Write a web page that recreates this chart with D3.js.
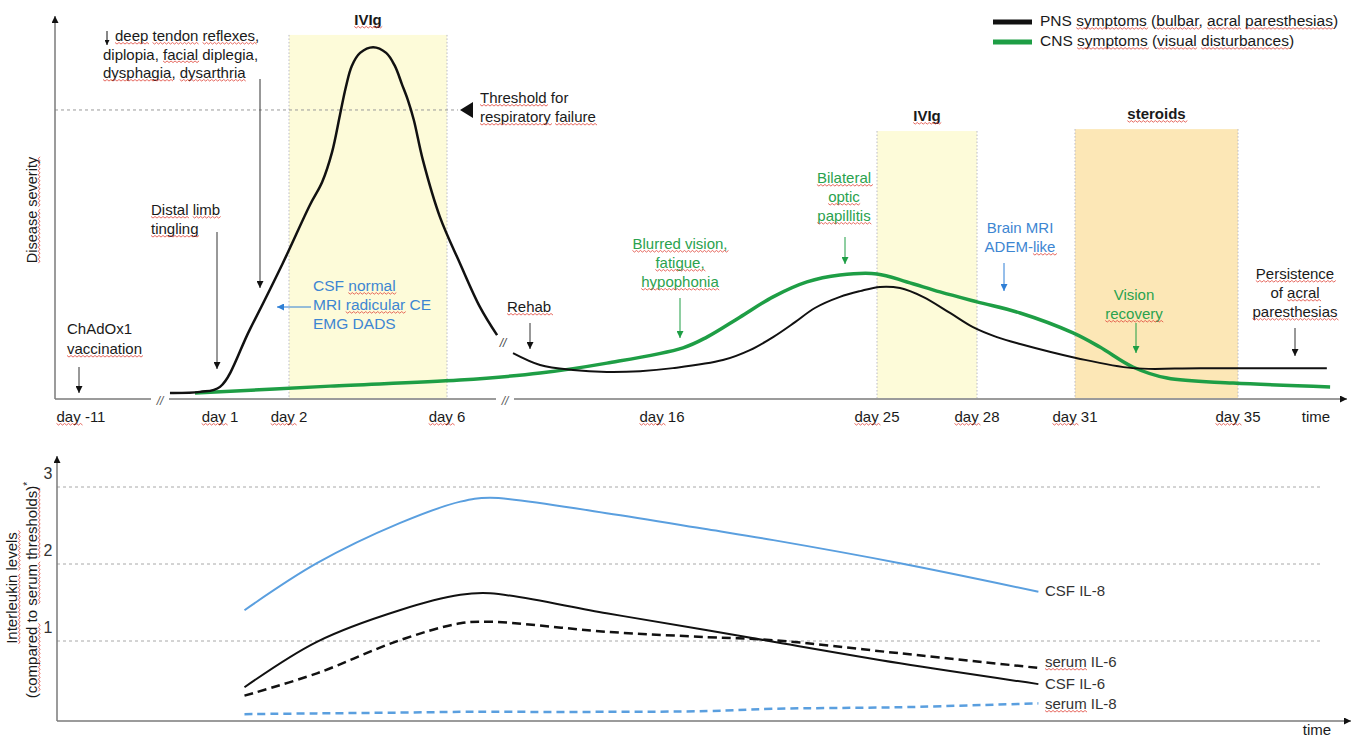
<!DOCTYPE html>
<html>
<head>
<meta charset="utf-8">
<script src="https://cdn.jsdelivr.net/npm/d3@7"></script>
<style>
  body { margin: 0; background: #fff; }
  svg { display: block; font-family: "Liberation Sans", Arial, sans-serif; }
</style>
</head>
<body>
<div id="chart"></div>
<script>
// ---- data: disease course (top panel) ----
const dayTicks = [-11, 1, 2, 6, 16, 25, 28, 31, 35];
const dayLabels = dayTicks.map(d => "day " + d);

// PNS symptoms, before and after the axis break
const pnsDaysA = [-3.32, -0.73, 1, 1.43, 1.91, 2.53, 2.84, 3.09, 3.29, 3.44, 3.59, 3.80, 4.13, 4.46, 4.68, 4.86, 5.01, 5.16, 5.39, 5.82, 6.60, 7.53, 8.33];
const pnsSevA  = [1.3, 1.6, 2.9, 17.8, 35.2, 50.4, 56.4, 64.2, 73.9, 81.2, 86.7, 90.1, 91.6, 90.1, 86.7, 81.9, 77.8, 72.6, 62.1, 47.3, 35.2, 23.8, 16.4];
const pnsDaysB = [9.07, 10.33, 11.86, 13.44, 14.98, 16.46, 18.55, 19.68, 20.65, 21.57, 22.40, 23.45, 24.29, 25.09, 25.69, 26.38, 27.19, 27.88, 28.61, 29.32, 31.05, 32.42, 34.07, 37.18];
const pnsSevB  = [11.7, 8.6, 7.3, 6.8, 7.0, 7.8, 9.9, 12.5, 15.9, 19.8, 23.5, 26.4, 27.9, 29.0, 28.7, 26.4, 22.2, 18.5, 15.9, 14.1, 10.4, 7.8, 7.8, 7.8];

// CNS symptoms
const cnsDays = [-1.16, 3.04, 6.60, 10.33, 13.44, 16.88, 17.88, 19.26, 20.65, 22.07, 23.45, 25, 25.9, 26.89, 28, 29.32, 30.94, 31.61, 32.42, 33.26, 34.88, 37.26];
const cnsSev  = [1.3, 3.1, 4.7, 6.5, 9.1, 13.1, 15.9, 21.1, 26.4, 30.3, 32.1, 32.4, 30.3, 27.7, 25.1, 22.2, 17.0, 13.3, 8.1, 5.2, 3.9, 2.9];

// treatments
const treatNames = ["IVIg", "IVIg", "steroids"];
const treatStart = [2, 25, 31];
const treatEnd   = [6, 28, 35];
const treatTop   = [94.8, 69.7, 70.2];
const threshold = 75.2;

// ---- data: interleukins (bottom panel) ----
const ilTime = [14.5, 20.1, 26.5, 31.2, 33.5, 42.5, 50.3, 55.4, 65.2, 75.9];
const csfIL8   = [1.40, 2.01, 2.53, 2.81, 2.86, 2.66, 2.45, 2.31, 2.01, 1.64];
const csfIL6   = [0.40, 0.99, 1.40, 1.60, 1.62, 1.36, 1.14, 0.99, 0.71, 0.44];
const serumIL6 = [0.29, 0.58, 1.01, 1.23, 1.25, 1.12, 1.05, 1.01, 0.84, 0.65];
const serumIL8 = [0.05, 0.06, 0.07, 0.08, 0.08, 0.08, 0.09, 0.12, 0.14, 0.19];
const ilTicks = [1, 2, 3];

const W = 1358, H = 740;
const GREEN = "#1e9e45", GREEN_TXT = "#2aa24e", BLUE = "#5a9fdf", BLUE_TXT = "#3d86d2";

const svg = d3.select("#chart").append("svg")
  .attr("width", W).attr("height", H);

const defs = svg.append("defs");
function marker(id, color, w = 8, h = 7) {
  defs.append("marker")
    .attr("id", id).attr("viewBox", "0 0 10 10")
    .attr("refX", 10).attr("refY", 5)
    .attr("markerUnits", "userSpaceOnUse")
    .attr("markerWidth", w).attr("markerHeight", h)
    .attr("orient", "auto")
    .append("path").attr("d", "M0,0L10,5L0,10z").attr("fill", color);
}
marker("ah-black", "#111");
marker("ah-green", GREEN);
marker("ah-blue", "#2f7fd6");
marker("ah-axis", "#111");
marker("ah-small", "#111", 5, 5);

// multi-line text; words in opts.ul get the red spell-check squiggle seen in the original
function lines(g, txt, x, y, opts = {}) {
  const grp = g.append("g");
  if (opts.transform) grp.attr("transform", opts.transform);
  const t = grp.append("text")
    .attr("x", x).attr("y", y)
    .attr("text-anchor", opts.anchor || "start")
    .attr("dominant-baseline", "middle")
    .attr("font-size", opts.size || 15)
    .attr("font-weight", opts.weight || "normal")
    .attr("fill", opts.color || "#1a1a1a");
  txt.forEach((s, i) => {
    t.append("tspan").attr("x", x).attr("dy", i === 0 ? 0 : (opts.lh || 19)).text(s);
  });
  if (opts.ul) {
    t.selectAll("tspan").each(function () {
      const s = this.textContent;
      opts.ul.forEach(w => {
        let idx = s.indexOf(w);
        while (idx >= 0) {
          const a = this.getExtentOfChar(idx), b = this.getExtentOfChar(idx + w.length - 1);
          const yy = a.y + a.height - 1.5;
          let d = `M${a.x},${yy}`;
          for (let xx = a.x, k = 0; xx < b.x + b.width; xx += 2, k++) {
            d += `L${xx + 2},${yy + (k % 2 ? 0 : 1.6)}`;
          }
          grp.append("path").attr("d", d).attr("fill", "none")
            .attr("stroke", "#e0453a").attr("stroke-width", 0.8);
          idx = s.indexOf(w, idx + w.length);
        }
      });
    });
  }
  return t;
}
function arrow(g, x1, y1, x2, y2, color, id) {
  g.append("line")
    .attr("x1", x1).attr("y1", y1).attr("x2", x2).attr("y2", y2)
    .attr("stroke", color).attr("stroke-width", 1)
    .attr("marker-end", `url(#${id})`);
}

// ================= top panel =================
const x = d3.scaleLinear()
  .domain(dayTicks)
  .range([81, 220, 289, 447, 662, 877, 977, 1075, 1238]);
const y = d3.scaleLinear().domain([0, 100]).range([398, 15]);

const gTop = svg.append("g");

// treatment bands
treatNames.forEach((n, i) => {
  const x0 = x(treatStart[i]), x1 = x(treatEnd[i]), yt = y(treatTop[i]);
  gTop.append("rect")
    .attr("x", x0).attr("y", yt)
    .attr("width", x1 - x0).attr("height", y(0) - yt)
    .attr("fill", n === "steroids" ? "#fce7b6" : "#fdfbd9");
  [x0, x1].forEach(xx => gTop.append("line")
    .attr("x1", xx).attr("x2", xx).attr("y1", yt).attr("y2", y(0))
    .attr("stroke", "#b9b9c4").attr("stroke-width", 1)
    .attr("stroke-dasharray", "1.5,2"));
  lines(gTop, [n], (x0 + x1) / 2, yt - 14, { anchor: "middle", weight: "bold", size: 15, ul: [n] });
});

// threshold
gTop.append("line")
  .attr("x1", 55).attr("x2", 458).attr("y1", y(threshold)).attr("y2", y(threshold))
  .attr("stroke", "#9a9a9a").attr("stroke-width", 1).attr("stroke-dasharray", "3,3");
gTop.append("path")
  .attr("d", `M460,${y(threshold)}L473,${y(threshold) - 8}L473,${y(threshold) + 8}Z`)
  .attr("fill", "#111");
lines(gTop, ["Threshold for", "respiratory failure"], 480, 99,
  { lh: 19, ul: ["Threshold", "respiratory", "failure"] });

// axes
gTop.append("line").attr("x1", 55).attr("x2", 55).attr("y1", 399).attr("y2", 16)
  .attr("stroke", "#7a7a7a").attr("stroke-width", 1.5).attr("marker-end", "url(#ah-axis)");
gTop.append("line").attr("x1", 55).attr("x2", 1347).attr("y1", 399).attr("y2", 399)
  .attr("stroke", "#7a7a7a").attr("stroke-width", 1.5).attr("marker-end", "url(#ah-axis)");
// axis breaks
[160, 505].forEach(bx => {
  gTop.append("rect").attr("x", bx - 9).attr("y", 395).attr("width", 18).attr("height", 8).attr("fill", "#fff");
  lines(gTop, ["//"], bx, 402, { anchor: "middle", size: 12, color: "#555" }).attr("font-style", "italic");
});
lines(gTop, ["//"], 503, 344, { anchor: "middle", size: 12, color: "#444" }).attr("font-style", "italic");

// tick labels
dayTicks.forEach((d, i) => lines(gTop, [dayLabels[i]], x(d), 418, { anchor: "middle", ul: ["day"] }));
lines(gTop, ["time"], 1316, 418, { anchor: "middle" });

lines(gTop, ["Disease severity"], 0, 0,
  { anchor: "middle", size: 14.5, transform: "translate(33,210) rotate(-90)", ul: ["Disease", "severity"] });

// curves
const line = d3.line().x(d => x(d[0])).y(d => y(d[1])).curve(d3.curveCatmullRom.alpha(0.5));
gTop.append("path").datum(d3.zip(cnsDays, cnsSev)).attr("d", line)
  .attr("fill", "none").attr("stroke", GREEN).attr("stroke-width", 3.5);
gTop.append("path").datum(d3.zip(pnsDaysA, pnsSevA)).attr("d", line)
  .attr("fill", "none").attr("stroke", "#111").attr("stroke-width", 2.5);
gTop.append("path").datum(d3.zip(pnsDaysB, pnsSevB)).attr("d", line)
  .attr("fill", "none").attr("stroke", "#111").attr("stroke-width", 2);

// legend
gTop.append("line").attr("x1", 993).attr("x2", 1032).attr("y1", 22).attr("y2", 22)
  .attr("stroke", "#111").attr("stroke-width", 5);
gTop.append("line").attr("x1", 993).attr("x2", 1032).attr("y1", 42).attr("y2", 42)
  .attr("stroke", GREEN).attr("stroke-width", 5);
lines(gTop, ["PNS symptoms (bulbar, acral paresthesias)"], 1040, 22,
  { size: 15.5, ul: ["symptoms", "bulbar", "acral", "paresthesias"] });
lines(gTop, ["CNS symptoms (visual disturbances)"], 1040, 42,
  { size: 15.5, ul: ["symptoms", "visual", "disturbances"] });

// annotations
arrow(gTop, 107, 31, 107, 45, "#111", "ah-small");
lines(gTop, ["deep tendon reflexes,"], 115, 37, { ul: ["deep", "tendon", "reflexes"] });
lines(gTop, ["diplopia, facial diplegia,", "dysphagia, dysarthria"], 103, 55.5,
  { lh: 18.5, ul: ["facial", "dysphagia", "dysarthria"] });
arrow(gTop, 260, 79, 260, 288, "#333", "ah-black");
lines(gTop, ["Distal limb", "tingling"], 151, 211, { ul: ["Distal", "limb", "tingling"] });
arrow(gTop, 217, 232, 217, 369, "#333", "ah-black");
lines(gTop, ["ChAdOx1", "vaccination"], 67, 330, { lh: 20, ul: ["vaccination"] });
arrow(gTop, 79, 367, 79, 393, "#333", "ah-black");
lines(gTop, ["CSF normal", "MRI radicular CE", "EMG DADS"], 313, 287,
  { color: BLUE_TXT, size: 15.5, lh: 19, ul: ["normal", "radicular"] });
arrow(gTop, 311, 307, 277, 307, "#2f7fd6", "ah-blue");
lines(gTop, ["Rehab"], 507, 308, { ul: ["Rehab"] });
arrow(gTop, 530, 323, 530, 349, "#333", "ah-black");
lines(gTop, ["Blurred vision,", "fatigue,", "hypophonia"], 680, 245,
  { anchor: "middle", color: GREEN_TXT, lh: 19, ul: ["Blurred vision,", "fatigue,", "hypophonia"] });
arrow(gTop, 680, 298, 680, 338, GREEN, "ah-green");
lines(gTop, ["Bilateral", "optic", "papillitis"], 844, 179,
  { anchor: "middle", color: GREEN_TXT, lh: 19, ul: ["Bilateral", "optic", "papillitis"] });
arrow(gTop, 845, 237, 845, 264, GREEN, "ah-green");
lines(gTop, ["Brain MRI", "ADEM-like"], 1020, 229,
  { anchor: "middle", color: BLUE_TXT, lh: 19, ul: ["like"] });
arrow(gTop, 1004, 263, 1004, 291, "#2f7fd6", "ah-blue");
lines(gTop, ["Vision", "recovery"], 1134, 296,
  { anchor: "middle", color: GREEN_TXT, lh: 19, ul: ["recovery"] });
arrow(gTop, 1136, 323, 1136, 353, GREEN, "ah-green");
lines(gTop, ["Persistence", "of acral", "paresthesias"], 1295, 275,
  { anchor: "middle", lh: 19, ul: ["Persistence", "acral", "paresthesias"] });
arrow(gTop, 1295, 328, 1295, 356, "#333", "ah-black");

// ================= bottom panel =================
const xb = d3.scaleLinear().domain([0, 100]).range([57, 1350]);
const yb = d3.scaleLinear().domain([0, 3]).range([718, 487]);
const gBot = svg.append("g");

ilTicks.forEach(v => {
  gBot.append("line").attr("x1", 57).attr("x2", 1322).attr("y1", yb(v)).attr("y2", yb(v))
    .attr("stroke", "#a8a8a8").attr("stroke-width", 1).attr("stroke-dasharray", "3,3");
  lines(gBot, [String(v)], 48, yb(v) - 12, { anchor: "middle", size: 16, color: "#333" });
});
gBot.append("line").attr("x1", 57).attr("x2", 57).attr("y1", 721).attr("y2", 456)
  .attr("stroke", "#7a7a7a").attr("stroke-width", 1.5).attr("marker-end", "url(#ah-axis)");
gBot.append("line").attr("x1", 57).attr("x2", 1351).attr("y1", 721).attr("y2", 721)
  .attr("stroke", "#7a7a7a").attr("stroke-width", 1.5).attr("marker-end", "url(#ah-axis)");
lines(gBot, ["time"], 1317, 731, { anchor: "middle" });

lines(gBot, ["Interleukin levels"], 0, 0,
  { anchor: "middle", size: 15, transform: "translate(13,588) rotate(-90)", ul: ["Interleukin", "levels"] });
const t2 = lines(gBot, ["(compared to serum thresholds)"], 0, 0,
  { anchor: "middle", size: 15, transform: "translate(33,590) rotate(-90)", ul: ["compared", "serum", "thresholds"] });
t2.append("tspan").attr("dy", -5).attr("font-size", 10).text("*");

const lineB = d3.line().x(d => xb(d[0])).y(d => yb(d[1])).curve(d3.curveCatmullRom.alpha(0.5));
const series = [
  { v: csfIL8, c: BLUE, dash: null, w: 2, label: "CSF IL-8", ly: 592 },
  { v: serumIL6, c: "#111", dash: "9,5", w: 2.5, label: "serum IL-6", ly: 663 },
  { v: csfIL6, c: "#111", dash: null, w: 2, label: "CSF IL-6", ly: 685 },
  { v: serumIL8, c: BLUE, dash: "8,5", w: 2.5, label: "serum IL-8", ly: 705 }
];
series.forEach(s => {
  gBot.append("path").datum(d3.zip(ilTime, s.v)).attr("d", lineB)
    .attr("fill", "none").attr("stroke", s.c).attr("stroke-width", s.w)
    .attr("stroke-dasharray", s.dash);
  lines(gBot, [s.label], 1045, s.ly, { color: "#333", ul: ["serum"] });
});
</script>
</body>
</html>
